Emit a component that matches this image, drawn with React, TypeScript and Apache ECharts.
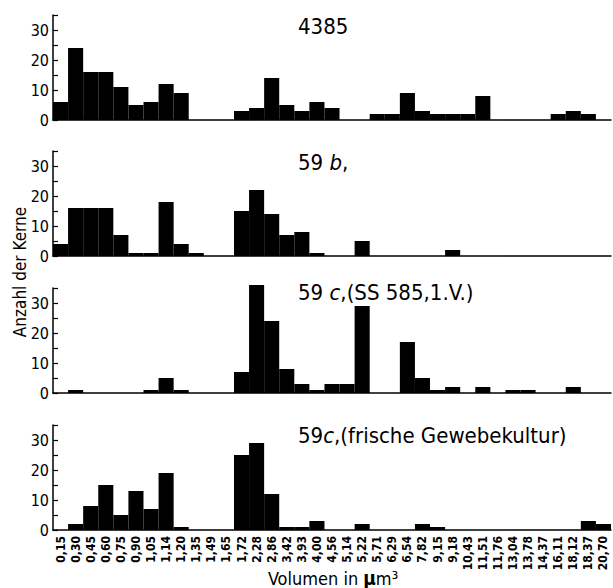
import React, { useEffect, useRef } from "react";
import * as echarts from "echarts";

const categories = [
  "0,15", "0,30", "0,45", "0,60", "0,75", "0,90", "1,05", "1,14", "1,20", "1,35",
  "1,49", "1,65", "1,72", "2,28", "2,86", "3,42", "3,93", "4,00", "4,56", "5,14",
  "5,22", "5,71", "6,29", "6,54", "7,82", "9,15", "9,18", "10,43", "11,51", "11,76",
  "13,04", "13,78", "14,37", "16,11", "18,12", "18,37", "20,70",
];

const panelTitles = [
  "{n|4385}",
  "{n|59 }{i|b}{n|,}",
  "{n|59 }{i|c}{n|,(SS 585,1.V.)}",
  "{n|59}{i|c}{n|,(frische Gewebekultur)}",
];

const values4385 = [6, 24, 16, 16, 11, 5, 6, 12, 9, 0, 0, 0, 3, 4, 14, 5, 3, 6, 4, 0, 0, 2, 2, 9, 3, 2, 2, 2, 8, 0, 0, 0, 0, 2, 3, 2, 0];
const values59b = [4, 16, 16, 16, 7, 1, 1, 18, 4, 1, 0, 0, 15, 22, 14, 7, 8, 1, 0, 0, 5, 0, 0, 0, 0, 0, 2, 0, 0, 0, 0, 0, 0, 0, 0, 0, 0];
const values59cSS = [0, 1, 0, 0, 0, 0, 1, 5, 1, 0, 0, 0, 7, 36, 24, 8, 3, 1, 3, 3, 29, 0, 0, 17, 5, 1, 2, 0, 2, 0, 1, 1, 0, 0, 2, 0, 0];
const values59cFrisch = [0, 2, 8, 15, 5, 13, 7, 19, 1, 0, 0, 0, 25, 29, 12, 1, 1, 3, 0, 0, 2, 0, 0, 0, 2, 1, 0, 0, 0, 0, 0, 0, 0, 0, 0, 3, 2];

const panels = [values4385, values59b, values59cSS, values59cFrisch];

const yTicks = { min: 0, max: 35, interval: 5, labelStep: 10 };

const FONT = "'DejaVu Sans Condensed', 'Liberation Sans Narrow', sans-serif";

export default function App() {
  const ref = useRef<HTMLDivElement>(null);

  useEffect(() => {
    if (!ref.current) return;
    const chart = echarts.init(ref.current, null, { renderer: "svg" });

    const gridTops = [15, 151, 288, 425];
    const titleCenters = [26, 162, 292, 435];
    const titleSize = 22;

    const option: any = {
      animation: false,
      backgroundColor: "#fff",
      grid: gridTops.map((t) => ({ left: 53, width: 558, top: t, height: 105 })),
      xAxis: panels.map((_, i) => ({
        gridIndex: i,
        type: "category",
        data: categories,
        boundaryGap: true,
        axisLine: { show: true, lineStyle: { color: "#000", width: 1.5 } },
        axisTick: { show: false },
        axisLabel:
          i === 3
            ? {
                show: true,
                interval: 0,
                rotate: 90,
                fontSize: 12,
                fontWeight: "bold",
                fontFamily: FONT,
                color: "#000",
                margin: 6,
              }
            : { show: false },
        splitLine: { show: false },
      })),
      yAxis: panels.map((_, i) => ({
        gridIndex: i,
        type: "value",
        min: yTicks.min,
        max: yTicks.max,
        interval: yTicks.interval,
        axisLine: { show: true, lineStyle: { color: "#000", width: 1.5 } },
        axisTick: { show: true, inside: true, length: 5, lineStyle: { color: "#000", width: 1.2 } },
        axisLabel: {
          formatter: (v: number) => (v % yTicks.labelStep === 0 ? String(v) : ""),
          color: "#000",
          fontSize: 16,
          fontFamily: FONT,
          margin: 4,
        },
        splitLine: { show: false },
      })),
      series: panels.map((d, i) => ({
        type: "bar",
        xAxisIndex: i,
        yAxisIndex: i,
        data: d,
        barCategoryGap: "0%",
        barGap: "0%",
        clip: false,
        itemStyle: { color: "#000" },
      })),
      graphic: [
        ...panelTitles.map((t, i) => ({
          type: "text",
          x: 298,
          y: titleCenters[i],
          style: {
            text: t,
            fontSize: titleSize,
            fontFamily: FONT,
            fill: "#000",
            verticalAlign: "middle",
            align: "left",
            rich: {
              n: { fontSize: titleSize, fontFamily: FONT, fill: "#000" },
              i: { fontStyle: "italic", fontSize: titleSize, fontFamily: FONT, fill: "#000" },
            },
          },
        })),
        {
          type: "text",
          x: 20,
          y: 272,
          rotation: Math.PI / 2,
          style: {
            text: "Anzahl der Kerne",
            fontSize: 17,
            fontFamily: FONT,
            fill: "#000",
            align: "center",
            verticalAlign: "middle",
          },
        },
        {
          type: "text",
          x: 333,
          y: 578,
          style: {
            text: "{n|Volumen in }{b|µ}{n|m³}",
            fontSize: 18,
            fontFamily: FONT,
            fill: "#000",
            align: "center",
            verticalAlign: "middle",
            rich: {
              n: { fontSize: 18, fontFamily: FONT, fill: "#000" },
              b: { fontWeight: "bold", fontSize: 19, fontFamily: FONT, fill: "#000" },
            },
          },
        },
      ],
    };

    chart.setOption(option);
    return () => chart.dispose();
  }, []);

  return (
    <div
      ref={ref}
      style={{ position: "absolute", left: 0, top: 0, width: 613, height: 588 }}
    />
  );
}
